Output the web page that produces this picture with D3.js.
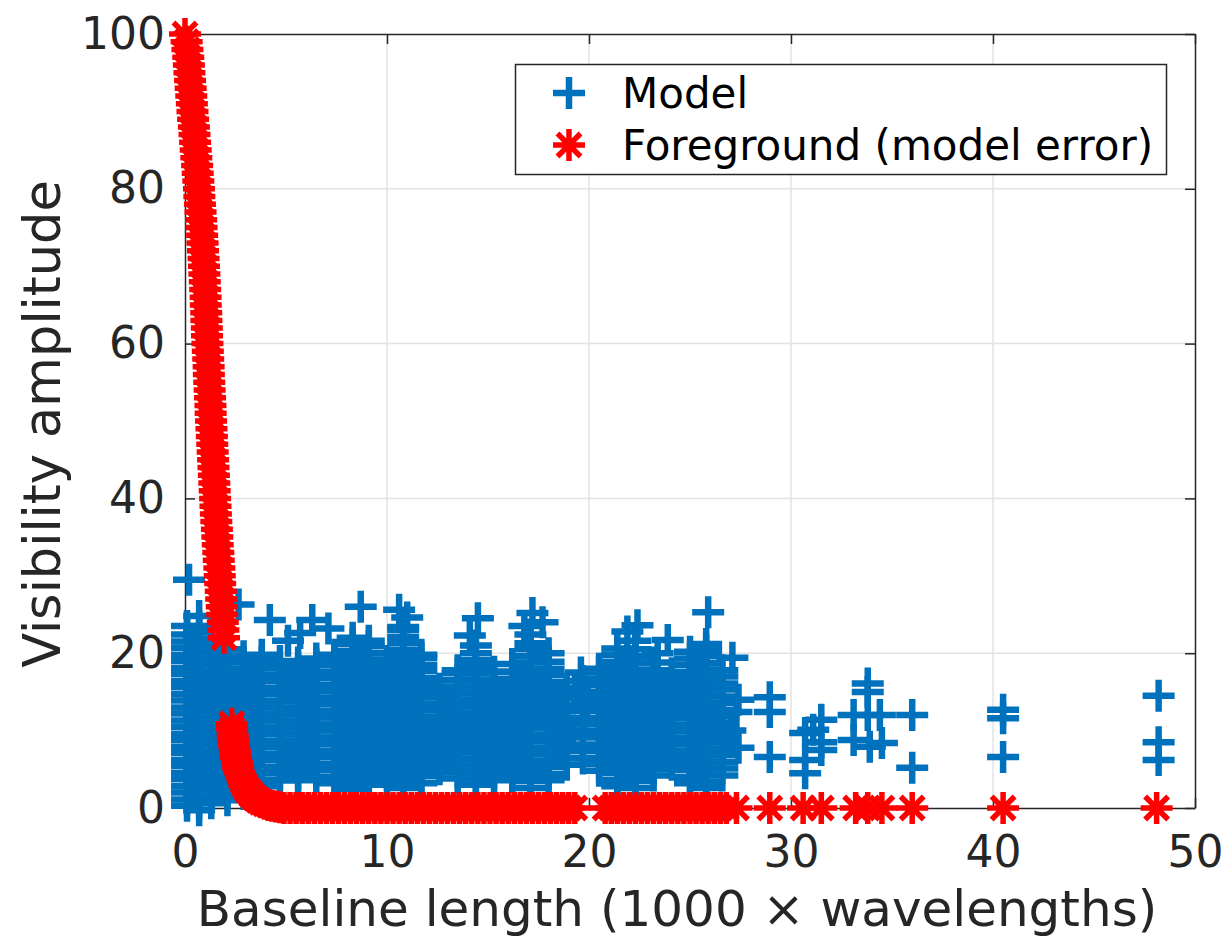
<!DOCTYPE html>
<html>
<head>
<meta charset="utf-8">
<script src="https://cdn.jsdelivr.net/npm/d3@7"></script>
<style>
  html, body { margin: 0; padding: 0; background: #fff; }
  svg { display: block; font-family: "DejaVu Sans", sans-serif; }
</style>
</head>
<body>
<script>
// x ticks / y ticks
const xTicks = [0, 10, 20, 30, 40, 50];
const yTicks = [0, 20, 40, 60, 80, 100];

// Model: dense columns (baseline in 1000 wavelengths -> amplitudes)
const modelColX = [0.1, 0.7, 1.3, 2.1, 2.9, 3.8, 4.7, 5.6, 6.5, 7.4, 8.3, 9.1, 10.0, 10.8, 11.7, 12.6,
  13.5, 14.4, 15.3, 16.2, 17.1, 18.0, 18.9, 19.7, 20.5, 21.4, 22.3, 23.2, 24.1, 25.0, 25.8, 26.6];
const modelColY = [
  [0.3, 1.1, 2.0, 2.8, 3.7, 4.5, 5.4, 6.2, 7.1, 7.9, 8.8, 9.6, 10.5, 11.3, 12.2, 13.0, 13.9, 14.7, 15.6, 16.4, 17.3, 18.1, 19.0, 19.8, 20.7, 21.5, 22.4, 23.5],
  [-0.3, 0.6, 1.4, 2.3, 3.1, 4.0, 4.8, 5.7, 6.5, 7.4, 8.2, 9.1, 9.9, 10.8, 11.6, 12.5, 13.3, 14.2, 15.0, 15.9, 16.7, 17.6, 18.4, 19.3, 20.1, 21.0, 21.8, 22.7, 23.5, 24.8],
  [0.6, 1.5, 2.3, 3.2, 4.0, 4.9, 5.7, 6.6, 7.4, 8.3, 9.1, 10.0, 10.8, 11.7, 12.5, 13.4, 14.2, 15.1, 15.9, 16.8, 17.6, 18.5, 19.3, 20.2, 21.0, 21.9, 23.0],
  [1.0, 1.9, 2.7, 3.6, 4.4, 5.3, 6.1, 7.0, 7.8, 8.7, 9.5, 10.4, 11.2, 12.1, 12.9, 13.8, 14.6, 15.5, 16.3, 17.2, 18.0, 18.9, 19.7, 20.5],
  [1.8, 2.6, 3.5, 4.3, 5.2, 6.0, 6.9, 7.7, 8.6, 9.4, 10.3, 11.1, 12.0, 12.8, 13.7, 14.5, 15.4, 16.2, 17.1, 17.9, 18.8, 19.6],
  [2.8, 3.6, 4.5, 5.3, 6.2, 7.0, 7.9, 8.7, 9.6, 10.4, 11.3, 12.1, 13.0, 13.8, 14.7, 15.5, 16.4, 17.2, 18.1, 18.9, 19.8],
  [3.6, 4.5, 5.3, 6.2, 7.0, 7.9, 8.7, 9.6, 10.4, 11.3, 12.1, 13.0, 13.8, 14.7, 15.5, 16.4, 17.2, 18.1, 19.0],
  [3.6, 4.4, 5.3, 6.1, 7.0, 7.8, 8.7, 9.5, 10.4, 11.2, 12.1, 12.9, 13.8, 14.6, 15.5, 16.3, 17.2, 18.0, 18.8],
  [4.0, 4.9, 5.7, 6.6, 7.4, 8.3, 9.1, 10.0, 10.8, 11.7, 12.5, 13.4, 14.2, 15.1, 15.9, 16.8, 17.6, 18.5, 19.3],
  [3.2, 4.0, 4.9, 5.7, 6.6, 7.4, 8.3, 9.1, 10.0, 10.8, 11.7, 12.5, 13.4, 14.2, 15.1, 15.9, 16.8, 17.6, 18.5, 19.3, 19.8],
  [2.5, 3.3, 4.2, 5.0, 5.9, 6.7, 7.6, 8.4, 9.3, 10.1, 11.0, 11.8, 12.7, 13.5, 14.4, 15.2, 16.1, 16.9, 17.8, 18.6, 19.5, 20.3, 21.2, 22.0],
  [3.0, 3.9, 4.7, 5.6, 6.4, 7.3, 8.1, 9.0, 9.8, 10.7, 11.5, 12.4, 13.2, 14.1, 14.9, 15.8, 16.6, 17.5, 18.3, 19.2, 20.0, 20.9, 21.6],
  [3.6, 4.4, 5.3, 6.1, 7.0, 7.8, 8.7, 9.5, 10.4, 11.2, 12.1, 12.9, 13.8, 14.6, 15.5, 16.3, 17.2, 18.0, 19.0],
  [2.6, 3.4, 4.3, 5.1, 6.0, 6.8, 7.7, 8.5, 9.4, 10.2, 11.1, 11.9, 12.8, 13.6, 14.5, 15.3, 16.2, 17.0, 17.9, 18.7, 19.6, 20.4, 21.3, 22.1, 23.0, 23.4],
  [3.2, 4.1, 4.9, 5.8, 6.6, 7.5, 8.3, 9.2, 10.0, 10.9, 11.7, 12.6, 13.4, 14.3, 15.1, 16.0, 16.8, 17.7, 18.5, 19.4, 19.8],
  [5.0, 5.9, 6.7, 7.6, 8.4, 9.3, 10.1, 11.0, 11.8, 12.7, 13.5, 14.4, 15.4],
  [3.8, 4.6, 5.5, 6.3, 7.2, 8.0, 8.9, 9.7, 10.6, 11.4, 12.3, 13.1, 14.0, 14.8, 15.7, 16.5, 17.4, 17.8],
  [3.0, 3.8, 4.7, 5.5, 6.4, 7.2, 8.1, 8.9, 9.8, 10.6, 11.5, 12.3, 13.2, 14.0, 14.9, 15.7, 16.6, 17.4, 18.3, 19.1, 20.0, 21.0],
  [3.6, 4.5, 5.3, 6.2, 7.0, 7.9, 8.7, 9.6, 10.4, 11.3, 12.1, 13.0, 13.8, 14.7, 15.5, 16.4, 17.6],
  [4.0, 4.8, 5.7, 6.5, 7.4, 8.2, 9.1, 9.9, 10.8, 11.6, 12.5, 13.3, 14.2, 15.0, 15.9, 16.7, 17.6, 18.6],
  [2.6, 3.5, 4.3, 5.2, 6.0, 6.9, 7.7, 8.6, 9.4, 10.3, 11.1, 12.0, 12.8, 13.7, 14.5, 15.4, 16.2, 17.1, 17.9, 18.8, 19.6, 20.5, 21.3, 22.4],
  [3.6, 4.4, 5.3, 6.1, 7.0, 7.8, 8.7, 9.5, 10.4, 11.2, 12.1, 12.9, 13.8, 14.6, 15.5, 16.3, 17.2, 18.0, 18.9, 20.0],
  [5.6, 6.5, 7.4, 8.2, 9.1, 9.9, 10.8, 11.6, 12.5, 13.3, 14.2, 15.4],
  [6.4, 8.1, 9.8, 11.4, 13.1, 15.0, 16.4],
  [4.8, 5.7, 6.5, 7.4, 8.2, 9.1, 9.9, 10.8, 11.6, 12.5, 13.3, 14.2, 15.0, 15.9, 16.7, 17.6, 18.0],
  [2.8, 3.6, 4.5, 5.3, 6.2, 7.0, 7.9, 8.7, 9.6, 10.4, 11.3, 12.1, 13.0, 13.8, 14.7, 15.5, 16.4, 17.2, 18.1, 18.9, 19.8, 20.6],
  [2.6, 3.5, 4.3, 5.2, 6.0, 6.9, 7.7, 8.6, 9.4, 10.3, 11.1, 12.0, 12.8, 13.7, 14.5, 15.4, 16.2, 17.1, 17.9, 18.8, 19.6, 20.5, 21.6],
  [4.2, 5.0, 5.9, 6.7, 7.6, 8.4, 9.3, 10.1, 11.0, 11.8, 12.7, 13.5, 14.4, 15.2, 16.1, 16.9, 17.8, 18.8],
  [5.6, 6.5, 7.3, 8.2, 9.0, 9.9, 10.7, 11.6, 12.4, 13.3, 14.1, 15.0, 15.8, 16.7, 17.4],
  [3.2, 4.0, 4.9, 5.7, 6.6, 7.4, 8.3, 9.1, 10.0, 10.8, 11.7, 12.5, 13.4, 14.2, 15.1, 15.9, 16.8, 17.6, 18.5, 19.3, 20.2],
  [2.6, 3.4, 4.3, 5.1, 6.0, 6.8, 7.7, 8.5, 9.4, 10.2, 11.1, 11.9, 12.8, 13.6, 14.5, 15.3, 16.2, 17.0, 17.9, 18.7, 19.6, 20.4, 21.2],
  [4.2, 5.1, 5.9, 6.8, 7.6, 8.5, 9.3, 10.2, 11.0, 11.9, 12.7, 13.6, 14.4, 15.3, 16.1, 17.0, 17.8]
];

// Model: isolated points
const modelLoneX = [0.2, 2.65, 4.2, 5.1, 6.3, 5.7, 7.1, 8.7, 10.6, 11.0, 14.5, 14.1, 17.2, 16.8, 17.7,
  19.6, 19.3, 19.9, 19.2, 22.4, 21.9, 23.9, 23.4, 25.9, 27.1, 27.4, 27.3, 27.4, 27.0,
  28.95, 28.95, 28.95, 30.7, 30.7, 30.7, 31.5, 31.5, 31.5, 31.1,
  33.8, 33.8, 33.1, 33.8, 34.4, 33.1, 33.9, 34.5, 36.0, 36.0, 40.5, 40.5, 40.5, 48.2, 48.2, 48.2];
const modelLoneY = [29.5, 26.3, 24.3, 21.6, 24.3, 22.6, 23.2, 26.0, 25.6, 24.6, 24.5, 22.3, 25.2, 23.5, 24.0,
  17.5, 15.5, 13.5, 10.0, 23.6, 22.8, 21.7, 20.0, 25.3, 19.4, 14.0, 12.4, 7.8, 10.0,
  14.3, 12.4, 6.6, 9.7, 6.2, 4.5, 11.4, 8.5, 7.5, 10.1,
  16.1, 15.0, 12.0, 12.0, 12.0, 8.8, 7.9, 8.4, 12.0, 5.2, 12.7, 11.6, 6.6, 14.5, 8.5, 6.2];

// Foreground (model error): steep part near zero baseline
const fgCurveX = [0.0, 0.08, 0.12, 0.16, 0.19, 0.22, 0.25, 0.28, 0.31, 0.34, 0.37, 0.40, 0.44, 0.47, 0.50, 0.53,
  0.56, 0.60, 0.63, 0.66, 0.69, 0.71, 0.74, 0.77, 0.80, 0.82, 0.85, 0.87, 0.89, 0.92, 0.94, 0.96, 0.98,
  1.00, 1.02, 1.03, 1.05, 1.06, 1.08, 1.09, 1.11, 1.13, 1.15, 1.17, 1.18, 1.20, 1.22, 1.24, 1.26, 1.27,
  1.29, 1.31, 1.33, 1.35, 1.37, 1.39, 1.41, 1.43, 1.45, 1.47, 1.49, 1.51, 1.53, 1.55, 1.58, 1.60,
  1.62, 1.65, 1.67, 1.70, 1.72, 1.74, 1.77, 1.79, 1.82, 1.84, 1.87, 1.90, 1.93];
const fgCurveY = [100, 99, 98, 97, 96, 95, 94, 93, 92, 91, 90, 89, 88, 87, 86, 85,
  84, 83, 82, 81, 80, 79, 78, 77, 76, 75, 74, 73, 72, 71, 70, 69, 68,
  67, 66, 65, 64, 63, 62, 61, 60, 59, 58, 57, 56, 55, 54, 53, 52, 51,
  50, 49, 48, 47, 46, 45, 44, 43, 42, 41, 40, 39, 38, 37, 36, 35,
  34, 33, 32, 31, 30, 29, 28, 27, 26, 25, 24, 23, 22];
// Foreground: knee of the second branch
const fgKneeX = [2.31, 2.33, 2.36, 2.39, 2.43, 2.47, 2.52, 2.57, 2.63, 2.70, 2.78, 2.87, 2.97, 3.08,
  3.20, 3.33, 3.47, 3.62, 3.78, 3.95, 4.12, 4.30, 4.50, 4.70];
const fgKneeY = [10.9, 10.2, 9.4, 8.7, 8.0, 7.3, 6.6, 5.9, 5.2, 4.6, 4.0, 3.4, 2.9, 2.4,
  2.0, 1.6, 1.3, 1.0, 0.75, 0.55, 0.4, 0.28, 0.18, 0.1];
// Foreground: baselines where the error is ~0
const fgZeroX = [4.9, 5.2, 5.5, 5.8, 6.1, 6.4, 6.7, 7.0, 7.3, 7.6, 7.9, 8.2, 8.5, 8.8, 9.1, 9.4, 9.7,
  10.0, 10.3, 10.6, 10.9, 11.2, 11.5, 11.8, 12.1, 12.4, 12.7, 13.0, 13.3, 13.6, 13.9, 14.2, 14.5,
  14.8, 15.1, 15.4, 15.7, 16.0, 16.3, 16.6, 16.9, 17.2, 17.5, 17.8, 18.1, 18.4, 18.7, 19.0, 19.3,
  20.8, 21.1, 21.4, 21.7, 22.0, 22.3, 22.6, 22.9, 23.2, 23.5, 23.8, 24.1, 24.4, 24.7, 25.0, 25.3,
  25.6, 25.9, 26.2, 26.5, 26.8, 27.3, 28.95, 30.6, 31.5, 33.2, 33.8, 34.5, 36.0, 40.5, 48.1];

const width = 1230, height = 940;
const x = d3.scaleLinear().domain([0, 50]).range([185, 1195]);
const y = d3.scaleLinear().domain([0, 100]).range([808, 34]);

const svg = d3.select("body").append("svg")
  .attr("width", width)
  .attr("height", height);

const axisColor = "#262626";

// grid
svg.append("g")
  .attr("stroke", "#e3e3e3")
  .attr("stroke-width", 1.5)
  .call(g => g.selectAll(".gx").data(xTicks.slice(1, -1)).join("line")
    .attr("x1", d => x(d)).attr("x2", d => x(d)).attr("y1", y(0)).attr("y2", y(100)))
  .call(g => g.selectAll(".gy").data(yTicks.slice(1, -1)).join("line")
    .attr("y1", d => y(d)).attr("y2", d => y(d)).attr("x1", x(0)).attr("x2", x(50)));

// axes box with inward ticks
const tickLen = 10;
function styleAxis(g) {
  g.select(".domain").attr("stroke", axisColor).attr("stroke-width", 1.5);
  g.selectAll(".tick line").attr("stroke", axisColor).attr("stroke-width", 1.5);
  g.selectAll(".tick text").attr("fill", axisColor).attr("font-size", 44)
    .attr("font-family", "DejaVu Sans");
}
svg.append("g").attr("transform", `translate(0,${y(0)})`)
  .call(d3.axisBottom(x).tickValues(xTicks).tickSizeInner(-tickLen).tickSizeOuter(0).tickPadding(28))
  .call(styleAxis);
svg.append("g").attr("transform", `translate(0,${y(100)})`)
  .call(d3.axisTop(x).tickValues(xTicks).tickSizeInner(-tickLen).tickSizeOuter(0).tickFormat(""))
  .call(styleAxis);
svg.append("g").attr("transform", `translate(${x(0)},0)`)
  .call(d3.axisLeft(y).tickValues(yTicks).tickSizeInner(-tickLen).tickSizeOuter(0).tickPadding(20))
  .call(styleAxis);
svg.append("g").attr("transform", `translate(${x(50)},0)`)
  .call(d3.axisRight(y).tickValues(yTicks).tickSizeInner(-tickLen).tickSizeOuter(0).tickFormat(""))
  .call(styleAxis);

// markers
const half = 16;
const plusPath = `M${-half},0H${half}M0,${-half}V${half}`;
const d = half * 0.72;
const starPath = plusPath + `M${-d},${-d}L${d},${d}M${-d},${d}L${d},${-d}`;

const model = [];
modelColX.forEach((cx, i) => modelColY[i].forEach(v => model.push([cx, v])));
modelLoneX.forEach((cx, i) => model.push([cx, modelLoneY[i]]));

const foreground = [];
fgCurveX.forEach((cx, i) => foreground.push([cx, fgCurveY[i]]));
fgKneeX.forEach((cx, i) => foreground.push([cx, fgKneeY[i]]));
fgZeroX.forEach(cx => foreground.push([cx, 0]));

svg.append("g")
  .attr("fill", "none")
  .attr("stroke", "#0072BD")
  .attr("stroke-width", 6.5)
  .selectAll("path")
  .data(model)
  .join("path")
  .attr("transform", p => `translate(${x(p[0])},${y(p[1])})`)
  .attr("d", plusPath);

svg.append("g")
  .attr("fill", "none")
  .attr("stroke", "#FF0000")
  .attr("stroke-width", 5.5)
  .selectAll("path")
  .data(foreground)
  .join("path")
  .attr("transform", p => `translate(${x(p[0])},${y(p[1])})`)
  .attr("d", starPath);

// axis labels
svg.append("text")
  .attr("x", 677)
  .attr("y", 926)
  .attr("text-anchor", "middle")
  .attr("font-size", 50)
  .attr("fill", axisColor)
  .text("Baseline length (1000 \u00d7 wavelengths)");

svg.append("text")
  .attr("transform", `translate(60,424) rotate(-90)`)
  .attr("text-anchor", "middle")
  .attr("font-size", 51)
  .attr("fill", axisColor)
  .text("Visibility amplitude");

// legend
const legend = svg.append("g");
legend.append("rect")
  .attr("x", 515.5).attr("y", 64.5)
  .attr("width", 651).attr("height", 110)
  .attr("fill", "#fff")
  .attr("stroke", axisColor)
  .attr("stroke-width", 1.5);
const legendItems = [
  { label: "Model", path: plusPath, color: "#0072BD", width: 6.5, cy: 93 },
  { label: "Foreground (model error)", path: starPath, color: "#FF0000", width: 5.5, cy: 145 }
];
legend.selectAll("path.mk")
  .data(legendItems)
  .join("path")
  .attr("transform", it => `translate(569,${it.cy})`)
  .attr("d", it => it.path)
  .attr("fill", "none")
  .attr("stroke", it => it.color)
  .attr("stroke-width", it => it.width);
legend.selectAll("text")
  .data(legendItems)
  .join("text")
  .attr("x", 622)
  .attr("y", it => it.cy)
  .attr("dy", "0.35em")
  .attr("font-size", 42)
  .attr("fill", "#000")
  .text(it => it.label);
</script>
</body>
</html>
